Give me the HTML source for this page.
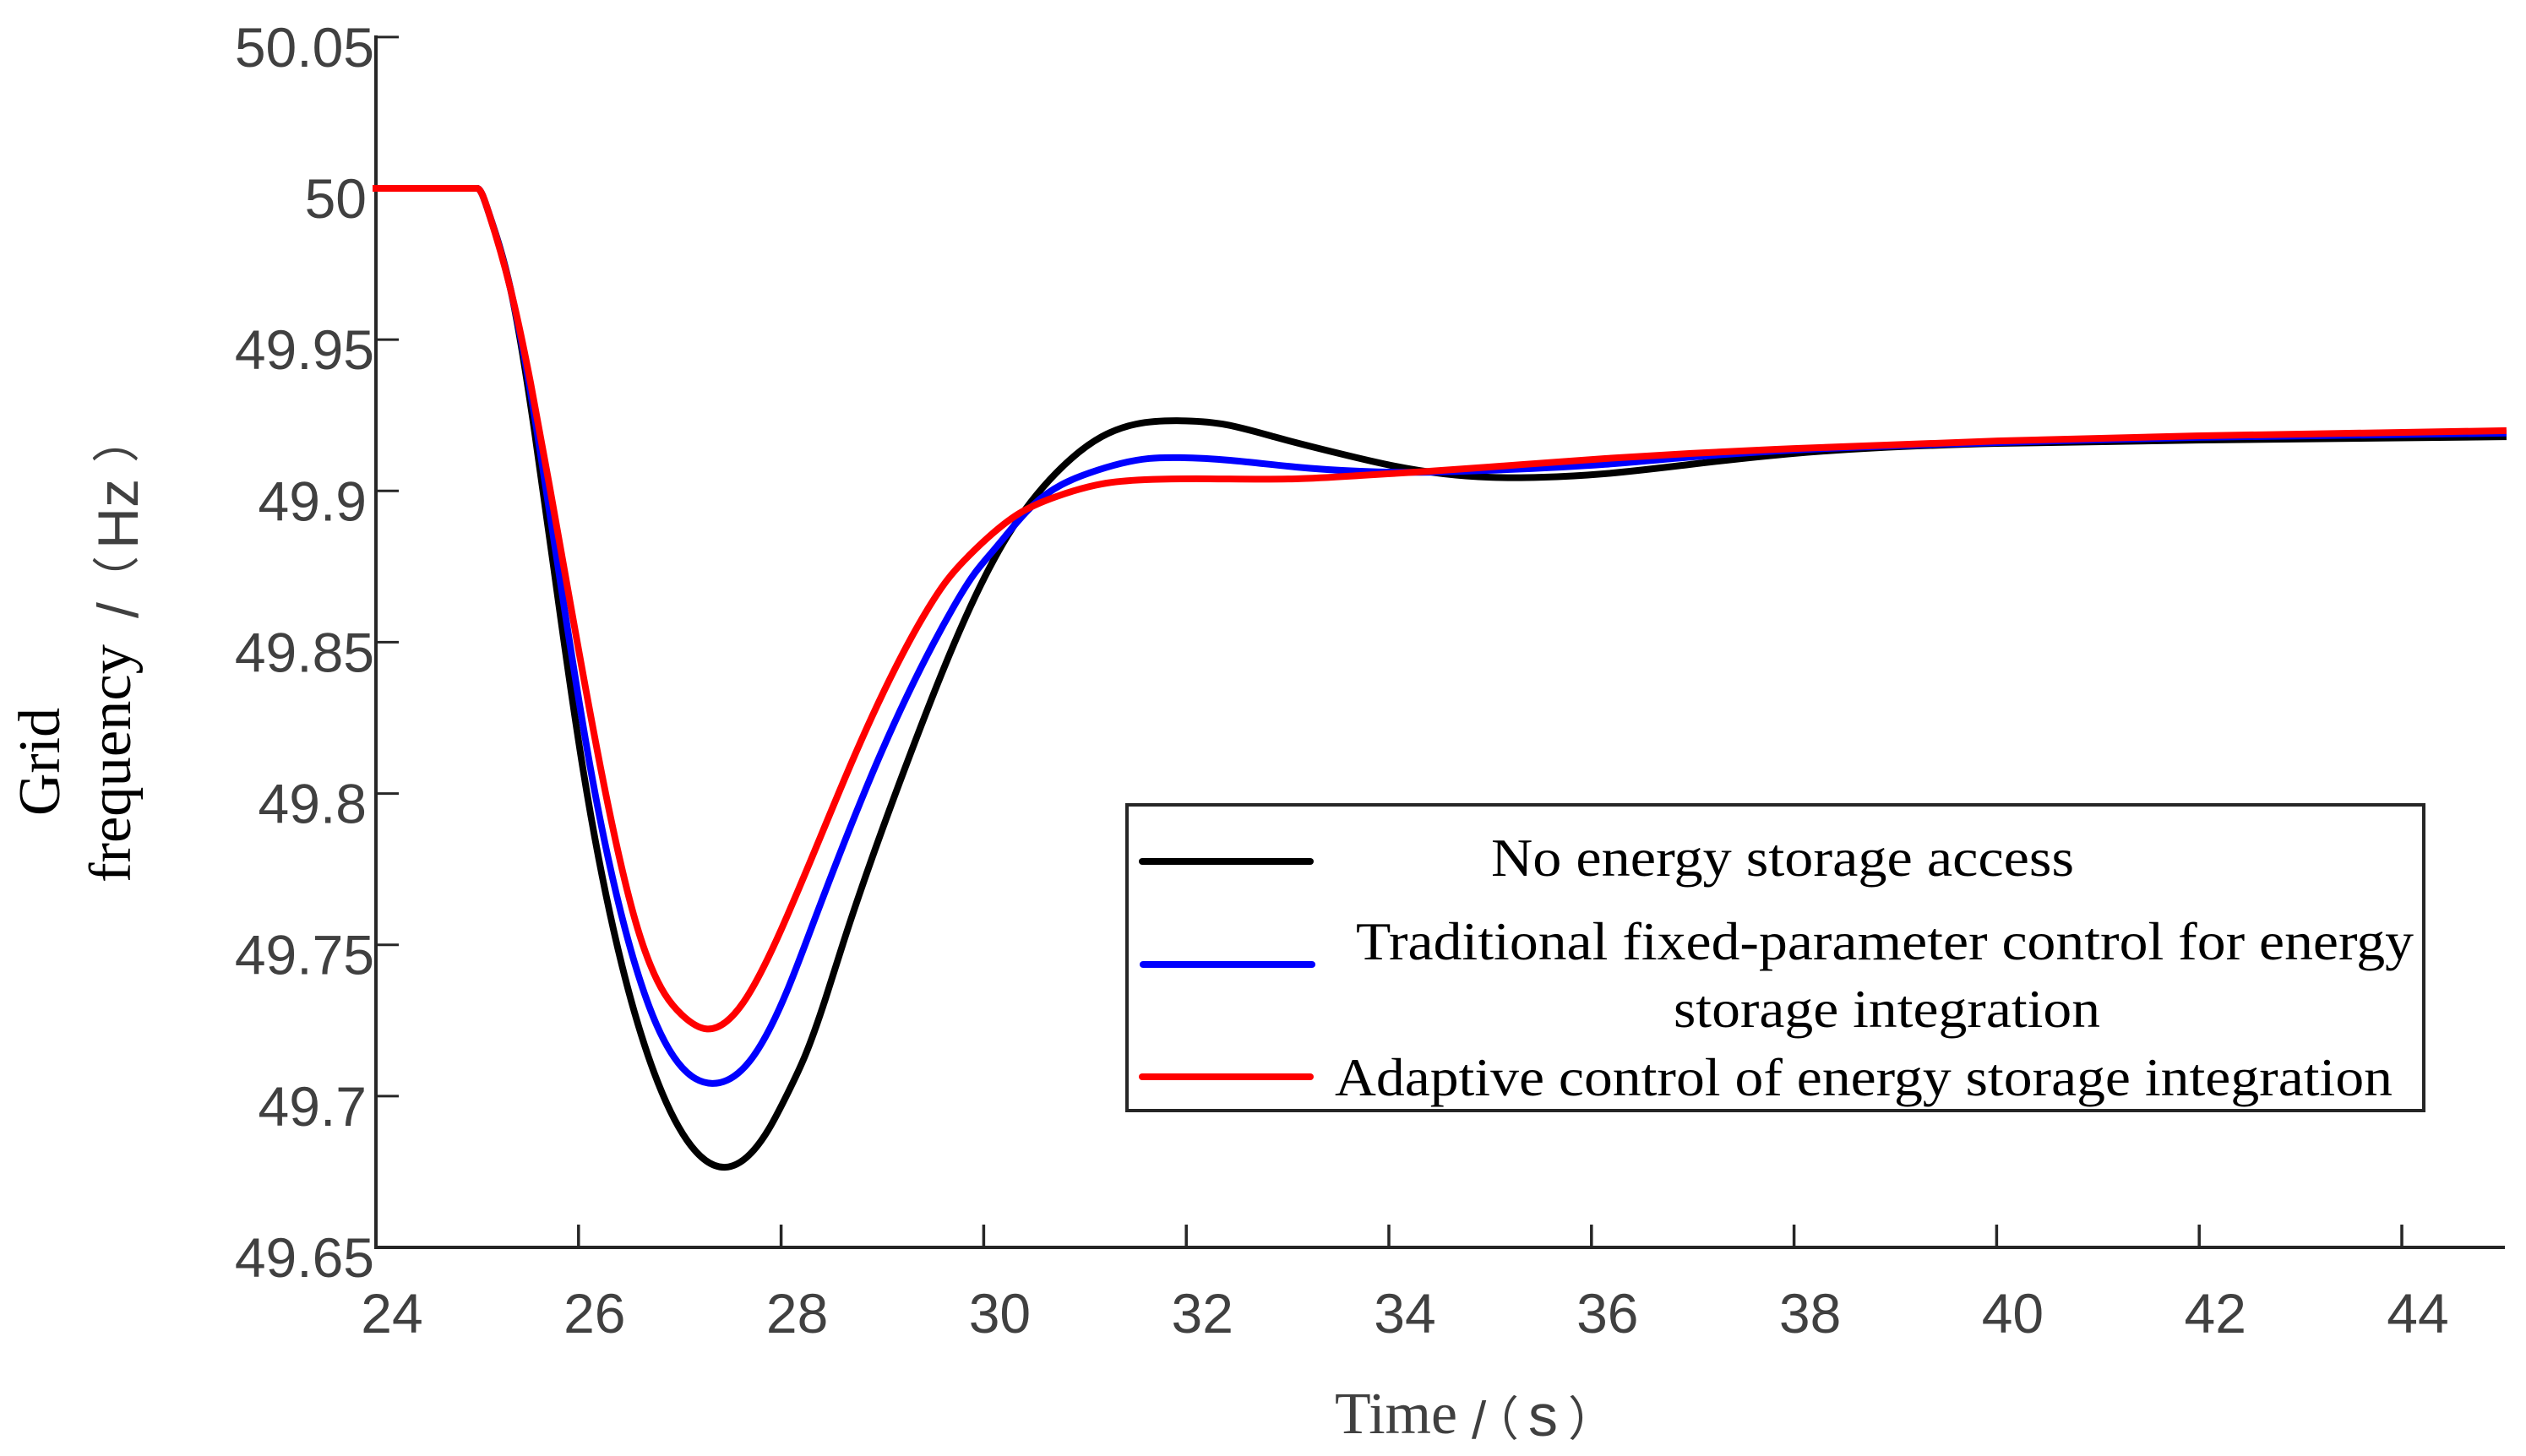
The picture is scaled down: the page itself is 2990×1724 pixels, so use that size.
<!DOCTYPE html>
<html lang="en">
<head>
<meta charset="utf-8">
<title>Grid frequency response</title>
<style>
html,body{margin:0;padding:0;background:#fff;}
svg{display:block;}
.serif{font-family:"Liberation Serif",serif;}
.sans{font-family:"Liberation Sans",sans-serif;}
.cjk{font-family:"Noto Sans CJK SC","Liberation Sans",sans-serif;}
</style>
</head>
<body>
<svg id="chart" xmlns="http://www.w3.org/2000/svg" width="2990" height="1724" viewBox="0 0 2990 1724">
  <rect x="0" y="0" width="2990" height="1724" fill="#fff"/>
  <g id="axis-layer"></g>
  <g id="series-layer"></g>

  <g fill="#000">
    <text class="serif" font-size="70" transform="translate(70,966) rotate(-90)" textLength="128" lengthAdjust="spacingAndGlyphs">Grid</text>
    <text class="serif" font-size="70" transform="translate(154,1045) rotate(-90)" textLength="282" lengthAdjust="spacingAndGlyphs">frequency</text>
    <text class="sans" font-size="68" fill="#404040" transform="translate(163,732) rotate(-90)">/</text>
    <text class="cjk" font-size="56" fill="#404040" transform="translate(158,714) rotate(-90)">（</text>
    <text class="sans" font-size="68" fill="#404040" transform="translate(163,650) rotate(-90)">Hz</text>
    <text class="cjk" font-size="56" fill="#404040" transform="translate(158,548) rotate(-90)">）</text>
  </g>

  <g fill="#404040">
    <text class="serif" font-size="70" x="1580" y="1697" textLength="145" lengthAdjust="spacingAndGlyphs">Time</text>
    <text class="sans" font-size="62" x="1742" y="1703">/</text>
    <text class="cjk" font-size="56" x="1742" y="1700">（</text>
    <text class="sans" font-size="70" x="1809" y="1700">s</text>
    <text class="cjk" font-size="56" x="1856" y="1700">）</text>
  </g>

  <g>
    <rect x="1334" y="953" width="1535" height="362" fill="#fff" stroke="#262626" stroke-width="4"/>
    <line x1="1352" y1="1020" x2="1551" y2="1020" stroke="#000" stroke-width="8" stroke-linecap="round"/>
    <line x1="1353" y1="1142" x2="1553" y2="1142" stroke="#0000ff" stroke-width="8" stroke-linecap="round"/>
    <line x1="1352" y1="1275" x2="1551" y2="1275" stroke="#ff0000" stroke-width="8" stroke-linecap="round"/>
    <text class="serif" font-size="64" fill="#000" x="1765" y="1037" textLength="690" lengthAdjust="spacingAndGlyphs">No energy storage access</text>
    <text class="serif" font-size="64" fill="#000" x="1605" y="1136" textLength="1252" lengthAdjust="spacingAndGlyphs">Traditional fixed-parameter control for energy</text>
    <text class="serif" font-size="64" fill="#000" x="1981" y="1216" textLength="505" lengthAdjust="spacingAndGlyphs">storage integration</text>
    <text class="serif" font-size="64" fill="#000" x="1580" y="1297" textLength="1252" lengthAdjust="spacingAndGlyphs">Adaptive control of energy storage integration</text>
  </g>
</svg>

<script>
var xTickValues = [24, 26, 28, 30, 32, 34, 36, 38, 40, 42, 44];
var yTickLabels = ["50.05", "50", "49.95", "49.9", "49.85", "49.8", "49.75", "49.7", "49.65"];

var noStorageTime = [24, 25, 25.1, 25.33, 25.568, 25.81, 26.043, 26.344, 26.686, 27.069, 27.445, 27.878, 28.07, 28.237, 28.437, 28.612, 29.213, 29.863, 30.238, 30.714, 31.164, 31.506, 31.907, 32.357, 32.866, 33.508, 34.058, 35, 35.5, 36.135, 36.985, 38, 40.01, 41.97, 45];
var noStorageHz = [50, 50, 49.9933, 49.9665, 49.9191, 49.8613, 49.8083, 49.7552, 49.7134, 49.6855, 49.6765, 49.6891, 49.7013, 49.7134, 49.7321, 49.7505, 49.8075, 49.8613, 49.8853, 49.9059, 49.9179, 49.9221, 49.9232, 49.9221, 49.9179, 49.9124, 49.9082, 49.9045, 49.9045, 49.9057, 49.9088, 49.9124, 49.9157, 49.9168, 49.9179];

var fixedParamTime = [24, 25, 25.1, 25.33, 25.593, 25.86, 26.118, 26.46, 26.769, 27.153, 27.319, 27.686, 28.07, 28.295, 28.962, 29.696, 29.905, 30.088, 30.497, 31.04, 31.63, 31.93, 32.44, 33.08, 33.716, 34.4, 34.99, 36.135, 36.985, 38, 40.01, 41.97, 45];
var fixedParamHz = [50, 50, 49.9933, 49.9665, 49.9191, 49.8613, 49.8083, 49.7552, 49.7237, 49.7058, 49.7042, 49.7114, 49.7357, 49.7552, 49.8115, 49.8613, 49.8725, 49.88, 49.8956, 49.9059, 49.9107, 49.911, 49.9101, 49.9079, 49.9065, 49.9062, 49.9068, 49.9088, 49.9112, 49.9135, 49.916, 49.9177, 49.9191];

var adaptiveTime = [24, 25, 25.1, 25.33, 25.526, 25.71, 25.927, 26.219, 26.585, 26.852, 27.019, 27.269, 27.628, 28.003, 28.712, 29.454, 29.638, 29.863, 30.347, 30.714, 31.164, 31.59, 32.232, 33.08, 33.716, 34.4, 34.99, 36.135, 36.985, 38, 40.01, 41.97, 45];
var adaptiveHz = [50, 50, 49.9933, 49.9665, 49.9358, 49.9023, 49.8613, 49.8083, 49.7552, 49.7337, 49.7269, 49.7222, 49.731, 49.7552, 49.8115, 49.8613, 49.8705, 49.8789, 49.8925, 49.8981, 49.9023, 49.9037, 49.904, 49.904, 49.9051, 49.9065, 49.9079, 49.9107, 49.9124, 49.914, 49.9165, 49.9182, 49.9199];

var SVG_NS = "http://www.w3.org/2000/svg";
var X_ORIGIN = 445, X_PER_SECOND = 119.9, X_MIN = 24;
var Y_ORIGIN = 223, Y_PER_HZ = 3582.9, Y_REF = 50;
var AXIS_END_X = 2965, AXIS_BOTTOM_Y = 1477, TICK_COLOR = "#262626", LABEL_COLOR = "#404040";

function xScale(t) { return X_ORIGIN + (t - X_MIN) * X_PER_SECOND; }
function yScale(v) { return Y_ORIGIN + (Y_REF - v) * Y_PER_HZ; }

// C2 cubic spline: flat first segment, clamped (slope 0) at the knee, natural at the end.
function splinePath(xs, ys) {
  var n = xs.length - 1, X = xs.slice(1), Y = ys.slice(1);
  var a = [], b = [], c = [], r = [], h = [], d = [], i;
  for (i = 0; i < n - 1; i++) {
    h.push(X[i + 1] - X[i]);
    d.push((Y[i + 1] - Y[i]) / h[i]);
  }
  a[0] = 0; b[0] = 1; c[0] = 0; r[0] = 0;
  for (i = 1; i < n - 1; i++) {
    a[i] = 1 / h[i - 1];
    b[i] = 2 * (1 / h[i - 1] + 1 / h[i]);
    c[i] = 1 / h[i];
    r[i] = 3 * (d[i - 1] / h[i - 1] + d[i] / h[i]);
  }
  a[n - 1] = 1 / h[n - 2];
  b[n - 1] = 2 / h[n - 2];
  c[n - 1] = 0;
  r[n - 1] = 3 * d[n - 2] / h[n - 2];
  for (i = 1; i < n; i++) {
    var w = a[i] / b[i - 1];
    b[i] -= w * c[i - 1];
    r[i] -= w * r[i - 1];
  }
  var m = [];
  m[n - 1] = r[n - 1] / b[n - 1];
  for (i = n - 2; i >= 0; i--) m[i] = (r[i] - c[i] * m[i + 1]) / b[i];
  var p = "M" + xs[0].toFixed(2) + " " + ys[0].toFixed(2) + "L" + X[0].toFixed(2) + " " + Y[0].toFixed(2);
  for (i = 0; i < n - 1; i++) {
    var k = h[i] / 3;
    p += "C" + (X[i] + k).toFixed(2) + " " + (Y[i] + m[i] * k).toFixed(2) + " " +
         (X[i + 1] - k).toFixed(2) + " " + (Y[i + 1] - m[i + 1] * k).toFixed(2) + " " +
         X[i + 1].toFixed(2) + " " + Y[i + 1].toFixed(2);
  }
  return p;
}

var seriesLayer = document.getElementById("series-layer");
var axisLayer = document.getElementById("axis-layer");

function drawSeries(times, values, color) {
  var path = document.createElementNS(SVG_NS, "path");
  path.setAttribute("d", splinePath(times.map(xScale), values.map(yScale)));
  path.setAttribute("fill", "none");
  path.setAttribute("stroke", color);
  path.setAttribute("stroke-width", "8");
  path.setAttribute("stroke-linejoin", "round");
  path.setAttribute("stroke-linecap", "square");
  seriesLayer.appendChild(path);
  return path;
}

var noStorageLine = drawSeries(noStorageTime, noStorageHz, "#000000");


var fixedParamLine = drawSeries(fixedParamTime, fixedParamHz, "#0000ff");


var adaptiveLine = drawSeries(adaptiveTime, adaptiveHz, "#ff0000");



function makeLine(x1, y1, x2, y2, width) {
  var l = document.createElementNS(SVG_NS, "line");
  l.setAttribute("x1", x1);
  l.setAttribute("y1", y1);
  l.setAttribute("x2", x2);
  l.setAttribute("y2", y2);
  l.setAttribute("stroke", TICK_COLOR);
  l.setAttribute("stroke-width", width);
  axisLayer.appendChild(l);
  return l;
}

function makeLabel(str, x, y, anchor) {
  var t = document.createElementNS(SVG_NS, "text");
  t.setAttribute("x", x);
  t.setAttribute("y", y);
  t.setAttribute("text-anchor", anchor);
  t.setAttribute("fill", LABEL_COLOR);
  t.setAttribute("font-size", "66");
  t.setAttribute("font-family", '"Liberation Sans", sans-serif');
  t.textContent = str;
  axisLayer.appendChild(t);
  return t;
}

var topY = yScale(parseFloat(yTickLabels[0]));
var yAxisLine = makeLine(X_ORIGIN, topY - 2, X_ORIGIN, AXIS_BOTTOM_Y + 2, 4);


var xAxisLine = makeLine(X_ORIGIN - 2, AXIS_BOTTOM_Y, AXIS_END_X, AXIS_BOTTOM_Y, 4);



xTickValues.forEach(function (v) {
  var x = xScale(v);
  if (v !== X_MIN) {
    var tick = makeLine(x, AXIS_BOTTOM_Y, x, AXIS_BOTTOM_Y - 27, 3.5);
    
    
  }
  var label = makeLabel(String(v), x + 19, 1578, "middle");
  
  
});

yTickLabels.forEach(function (s) {
  var y = yScale(parseFloat(s));
  if (parseFloat(s) !== 49.65) {
    var tick = makeLine(X_ORIGIN, y, X_ORIGIN + 27, y, 3);
    
    
  }
  var right = s.length === 5 ? 443 : 434;
  var label = makeLabel(s, right, y + 35, "end");
  
  
});
</script>
</body>
</html>
